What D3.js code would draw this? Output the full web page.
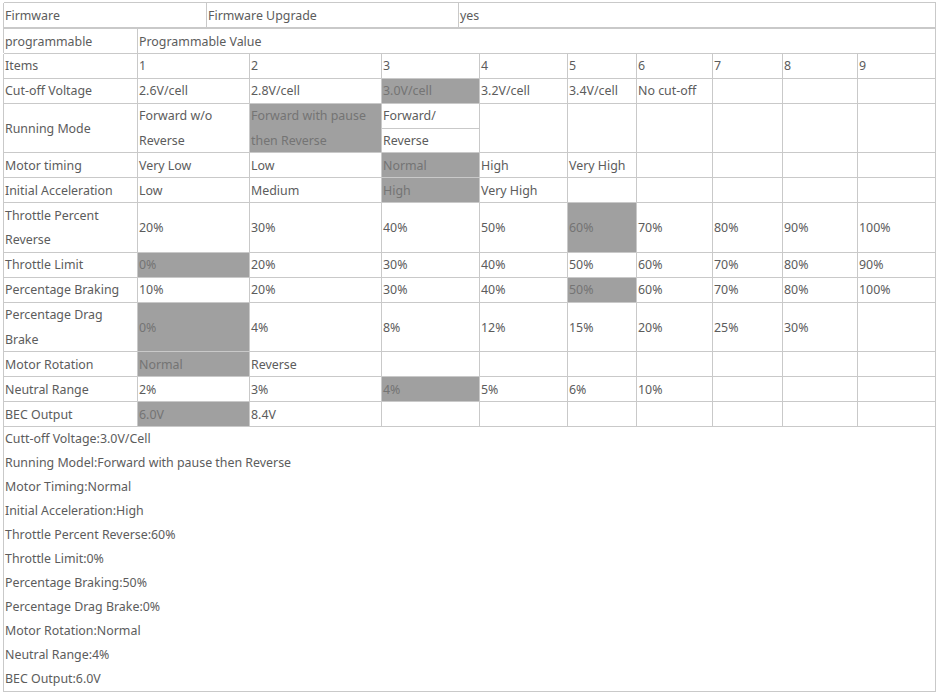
<!DOCTYPE html>
<html>
<head>
<meta charset="utf-8">
<script src="https://cdn.jsdelivr.net/npm/d3@7"></script>
<style>
  html, body { margin: 0; padding: 0; background: #fff; }
  svg { display: block; }
  text { font-family: "Noto Sans", "Open Sans", sans-serif; font-size: 12.4px; fill: #5c5c5c; }
  text.sel { fill: #747474; }
</style>
</head>
<body>
<script>
// ---------- data ----------
const headerRow = ["Firmware", "Firmware Upgrade", "yes"];
const subHeader = ["programmable", "Programmable Value"];
const itemsLabel = "Items";
const items = ["1", "2", "3", "4", "5", "6", "7", "8", "9"];

const rowLabels = [
  "Cut-off Voltage", "Running Mode", "Motor timing", "Initial Acceleration",
  "Throttle Percent\nReverse", "Throttle Limit", "Percentage Braking",
  "Percentage Drag\nBrake", "Motor Rotation", "Neutral Range", "BEC Output"
];
const rowSpans = [1, 2, 1, 1, 2, 1, 1, 2, 1, 1, 1];

const cutoffVoltage = ["2.6V/cell", "2.8V/cell", "3.0V/cell", "3.2V/cell", "3.4V/cell", "No cut-off"];
const runningMode = ["Forward w/o\nReverse", "Forward with pause\nthen Reverse", "Forward/|Reverse"];
const motorTiming = ["Very Low", "Low", "Normal", "High", "Very High"];
const initialAcceleration = ["Low", "Medium", "High", "Very High"];
const throttlePercentReverse = ["20%", "30%", "40%", "50%", "60%", "70%", "80%", "90%", "100%"];
const throttleLimit = ["0%", "20%", "30%", "40%", "50%", "60%", "70%", "80%", "90%"];
const percentageBraking = ["10%", "20%", "30%", "40%", "50%", "60%", "70%", "80%", "100%"];
const percentageDragBrake = ["0%", "4%", "8%", "12%", "15%", "20%", "25%", "30%"];
const motorRotation = ["Normal", "Reverse"];
const neutralRange = ["2%", "3%", "4%", "5%", "6%", "10%"];
const becOutput = ["6.0V", "8.4V"];

const rowValues = [cutoffVoltage, runningMode, motorTiming, initialAcceleration,
  throttlePercentReverse, throttleLimit, percentageBraking, percentageDragBrake,
  motorRotation, neutralRange, becOutput];
// selected (shaded) item index per row, 0-based
const selectedIndex = [2, 1, 2, 2, 4, 0, 4, 0, 0, 2, 0];

const summaryLines = [
  "Cutt-off Voltage:3.0V/Cell",
  "Running Model:Forward with pause then Reverse",
  "Motor Timing:Normal",
  "Initial Acceleration:High",
  "Throttle Percent Reverse:60%",
  "Throttle Limit:0%",
  "Percentage Braking:50%",
  "Percentage Drag Brake:0%",
  "Motor Rotation:Normal",
  "Neutral Range:4%",
  "BEC Output:6.0V"
];

// ---------- layout ----------
const W = 938, H = 694;
const colEdges = [3.5, 137.5, 249.5, 381.5, 479.5, 567.5, 636.5, 712.5, 782.5, 857.5, 935.5];
const headerEdges = [3.5, 206.5, 458.5, 935.5];
const gridColor = "#c9c9c9";
const shade = "#a0a0a0";
const top0 = 2.5, top1 = 27.5, top2 = 53;

const svg = d3.select("body").append("svg").attr("width", W).attr("height", H);
const gFill = svg.append("g");
const gLines = svg.append("g").attr("stroke", gridColor).attr("stroke-width", 1).attr("shape-rendering", "crispEdges");
const gText = svg.append("g");

function snap(v) { return Math.round(v) + 0.5; }
function line(x1, y1, x2, y2, w) {
  gLines.append("line").attr("x1", x1).attr("y1", y1).attr("x2", x2).attr("y2", y2)
    .attr("stroke-width", w || 1);
}
function txt(x, yc, s, cls) {
  const parts = s.split("\n");
  const lh = 24.6;
  const y0 = yc - (parts.length - 1) * lh / 2;
  parts.forEach((p, i) => {
    gText.append("text").attr("class", cls || null)
      .attr("x", x + 1.5).attr("y", Math.round(y0 + i * lh) + 4.5).text(p);
  });
}

// header rows
line(headerEdges[0], top0, headerEdges[3], top0);
headerEdges.forEach(x => line(x, top0, x, top1));
headerRow.forEach((s, i) => txt(headerEdges[i], (top0 + top1) / 2, s));
line(headerEdges[0], top1, headerEdges[3], top1, 2);
// programmable row
[colEdges[0], colEdges[1], colEdges[10]].forEach(x => line(x, top1, x, top2));
txt(colEdges[0], (top1 + top2) / 2 + 0.5, subHeader[0]);
txt(colEdges[1], (top1 + top2) / 2 + 0.5, subHeader[1]);

// rows
const allRows = [{ label: itemsLabel, span: 1, values: items, sel: -1 }]
  .concat(rowLabels.map((l, i) => ({ label: l, span: rowSpans[i], values: rowValues[i], sel: selectedIndex[i] })));
const totalUnits = d3.sum(allRows, r => r.span);
const y = d3.scaleLinear().domain([0, totalUnits]).range([top2, 426]);
let acc = 0;
allRows.forEach(r => { r.y0 = y(acc); acc += r.span; r.y1 = y(acc); });

allRows.forEach(r => {
  line(colEdges[0], snap(r.y0), colEdges[10], snap(r.y0));
  const yc = (r.y0 + r.y1) / 2;
  colEdges.forEach(x => line(x, snap(r.y0), x, snap(r.y1)));
  txt(colEdges[0], yc, r.label);
  r.values.forEach((v, ci) => {
    const x0 = colEdges[ci + 1], x1 = colEdges[ci + 2];
    const isSel = ci === r.sel;
    if (isSel) {
      gFill.append("rect").attr("x", x0).attr("y", snap(r.y0))
        .attr("width", x1 - x0).attr("height", snap(r.y1) - snap(r.y0)).attr("fill", shade);
    }
    if (v.includes("|")) {
      const ym = (r.y0 + r.y1) / 2;
      line(x0, snap(ym), x1, snap(ym));
      const [a, b] = v.split("|");
      txt(x0, (r.y0 + ym) / 2, a, isSel ? "sel" : null);
      txt(x0, (ym + r.y1) / 2, b, isSel ? "sel" : null);
    } else {
      txt(x0, yc, v, isSel ? "sel" : null);
    }
  });
});
line(colEdges[0], snap(426), colEdges[10], snap(426));

// summary block
const ySum = d3.scalePoint().domain(d3.range(summaryLines.length)).range([438, 678]);
summaryLines.forEach((s, i) => txt(colEdges[0], ySum(i), s));
line(colEdges[0], snap(426), colEdges[0], 691.5);
line(colEdges[10], snap(426), colEdges[10], 691.5);
line(colEdges[0], 691.5, colEdges[10], 691.5);
</script>
</body>
</html>
